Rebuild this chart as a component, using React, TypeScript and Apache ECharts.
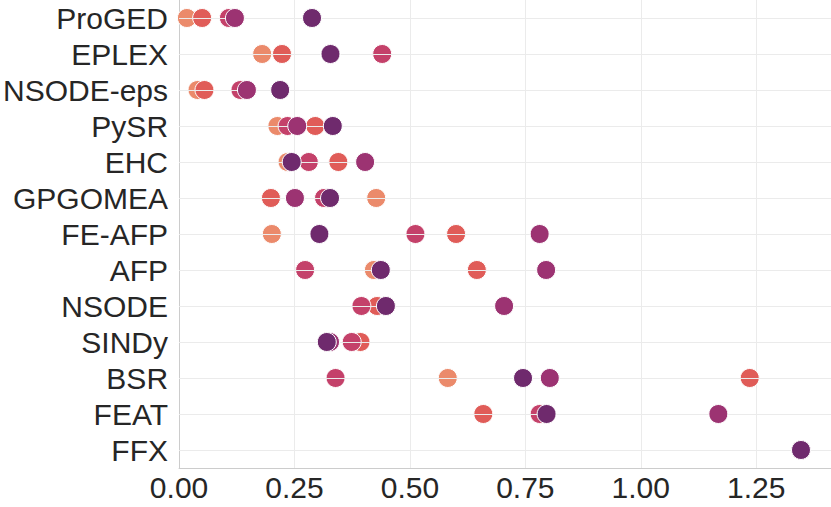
import React, { useEffect, useRef } from "react";
import * as echarts from "echarts";

const categories = ["ProGED", "EPLEX", "NSODE-eps", "PySR", "EHC", "GPGOMEA", "FE-AFP", "AFP", "NSODE", "SINDy", "BSR", "FEAT", "FFX"];
const xTicks = [0, 0.25, 0.5, 0.75, 1.0, 1.25];
const series1 = [0.017, 0.180, 0.040, 0.213, 0.235, 0.427, 0.201, 0.422, 0.448, 0.320, 0.582, 0.796, 1.347];
const series2 = [0.050, 0.223, 0.055, 0.295, 0.345, 0.199, 0.600, 0.645, 0.429, 0.393, 1.236, 0.659, 1.347];
const series3 = [0.108, 0.440, 0.133, 0.235, 0.281, 0.314, 0.512, 0.273, 0.395, 0.374, 0.339, 0.781, 1.347];
const series4 = [0.121, 0.328, 0.147, 0.256, 0.403, 0.251, 0.781, 0.795, 0.704, 0.327, 0.803, 1.168, 1.347];
const series5 = [0.288, 0.328, 0.219, 0.333, 0.244, 0.327, 0.304, 0.437, 0.448, 0.320, 0.745, 0.796, 1.347];
const seriesNames = ["Series 1", "Series 2", "Series 3", "Series 4", "Series 5"];
const colors = ["#EB8A6B", "#E05C58", "#C4416A", "#9C3372", "#6F2A6D"];

export default function App() {
  const ref = useRef<HTMLDivElement>(null);
  useEffect(() => {
    document.body.style.margin = "0";
    if (!ref.current) return;
    const chart = echarts.init(ref.current, null, { renderer: "svg" });
    const all = [series1, series2, series3, series4, series5];
    const font = "Liberation Sans, Arial, Helvetica, sans-serif";
    chart.setOption({
      animation: false,
      grid: { left: 175, right: 0, top: 0, bottom: 39 },
      xAxis: {
        type: "value",
        min: 0,
        max: 1.412,
        interval: 0.25,
        axisLine: { show: true, lineStyle: { color: "#cccccc", width: 1 } },
        axisTick: { show: false },
        axisLabel: {
          color: "#262626",
          fontSize: 30,
          fontFamily: font,
          margin: 4,
          showMaxLabel: false,
          formatter: (v: number) => (xTicks.some((t) => Math.abs(t - v) < 1e-9) ? v.toFixed(2) : ""),
        },
        splitLine: { show: true, lineStyle: { color: "#ebebeb", width: 1 } },
      },
      yAxis: {
        type: "category",
        data: categories,
        inverse: true,
        axisLine: { show: true, lineStyle: { color: "#cccccc", width: 1 } },
        axisTick: { show: false },
        axisLabel: { color: "#262626", fontSize: 30, fontFamily: font, margin: 11, interval: 0 },
        splitLine: { show: false },
      },
      series: [
        {
          type: "scatter",
          name: "grid",
          data: [],
          silent: true,
          z: 1,
          markLine: {
            silent: true,
            symbol: ["none", "none"],
            label: { show: false },
            lineStyle: { color: "#ebebeb", width: 1, type: "solid" },
            data: categories.map((_, i) => ({ yAxis: i })),
          },
        },
        ...all.map((s, k) => ({
          type: "scatter",
          name: seriesNames[k],
          data: s.map((v, i) => [v, categories[i]]),
          symbol: "circle",
          symbolSize: 19,
          z: 2 + k,
          itemStyle: { color: colors[k], borderColor: "#ffffff", borderWidth: 1, opacity: 1 },
        })),
      ],
    });
    return () => chart.dispose();
  }, []);
  return <div ref={ref} style={{ width: 831, height: 507 }} />;
}
